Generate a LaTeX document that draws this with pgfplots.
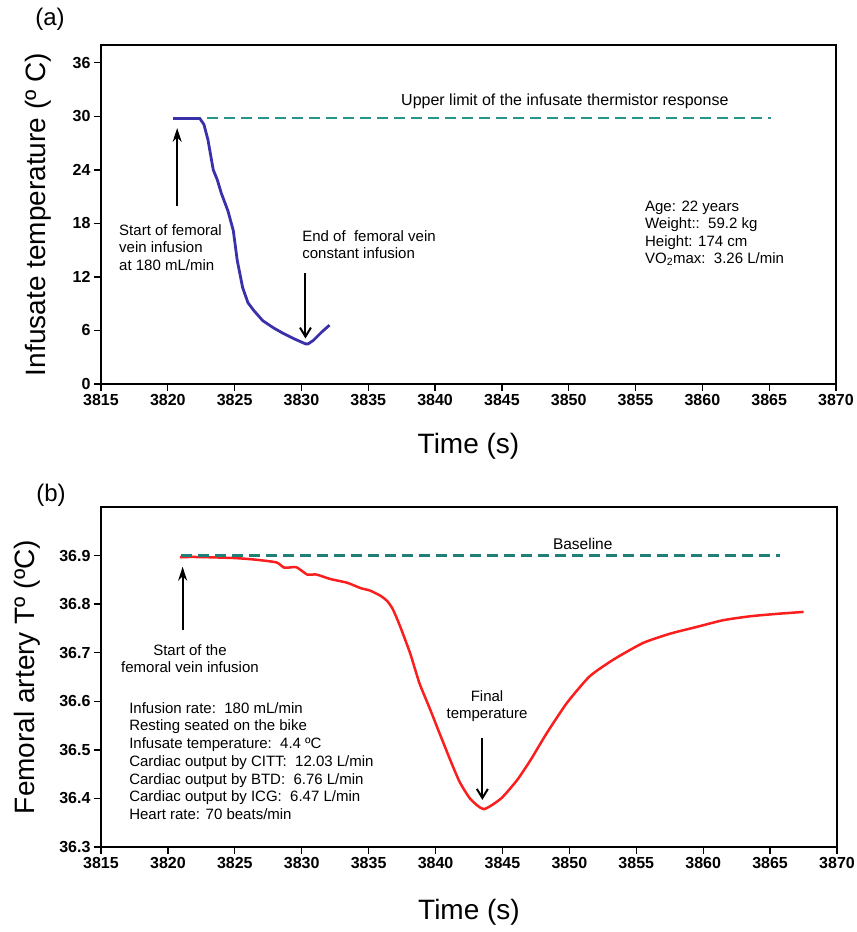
\documentclass[border=0pt]{standalone}
\usepackage{pgfplots}
\pgfplotsset{compat=1.18}
\usepackage{fontspec}
\setmainfont{Liberation Sans}
\usetikzlibrary{arrows.meta}
\definecolor{curveblue}{RGB}{58,48,170}
\definecolor{tealdash}{RGB}{38,150,140}
\definecolor{curvered}{RGB}{250,30,30}
\pgfplotsset{
  common/.style={
    scale only axis,
    anchor=south west,
    xmin=3815, xmax=3870,
    xtick={3815,3820,3825,3830,3835,3840,3845,3850,3855,3860,3865,3870},
    tick align=outside, tick pos=left,
    major tick length=7pt,
    axis line style={line width=1.6pt},
    every tick/.style={line width=1.3pt, black},
    tick label style={font=\fontsize{16}{18}\selectfont\bfseries},
    label style={font=\fontsize{28}{32}\selectfont},
    /pgf/number format/assume math mode=true,
    x tick label style={/pgf/number format/1000 sep={}},
    clip=false,
  }
}
\newcommand{\ann}{\fontsize{15}{17.5}\selectfont}
\begin{document}
\begin{tikzpicture}
\useasboundingbox (0,0) rectangle (857pt,932pt);
\node[font=\fontsize{24}{28}\selectfont] at (50pt,913pt) {(a)};
\node[font=\fontsize{24}{28}\selectfont] at (51pt,437pt) {(b)};
% ---------- (a)
\begin{axis}[common,
  at={(101pt,548pt)}, width=735pt, height=339pt,
  ymin=0, ymax=38, ytick={0,6,12,18,24,30,36},
  xlabel={Time (s)}, ylabel={Infusate temperature (º C)},
  xlabel style={at={(axis description cs:0.5,-0.183)}, anchor=center},
  ylabel style={at={(axis description cs:-0.0857,0.5)}, anchor=center},
]
\addplot[tealdash, line width=2.5pt, dash pattern=on 11pt off 6pt] coordinates {(3820.4,29.8) (3865.1,29.8)};
\addplot[curveblue, line width=2.8pt, line join=round] coordinates {
(3820.4,29.75) (3822.4,29.75) (3822.7,29.1) (3823.0,27.4) (3823.4,24.0) (3823.7,22.9)
(3824.0,21.4) (3824.5,19.4) (3824.9,17.2) (3825.2,13.8) (3825.6,10.8) (3826.0,9.1)
(3826.4,8.3) (3827.1,7.1) (3827.9,6.3) (3828.6,5.7) (3829.4,5.1) (3830.3,4.5)
(3830.5,4.5) (3830.9,4.9) (3831.5,5.8) (3832.1,6.6)};
\draw[line width=2pt, -{Stealth[length=14pt,width=9pt]}] (axis cs:3820.7,19.9) -- (axis cs:3820.7,28.7);
\draw[line width=2pt, -{Straight Barb[length=9pt,width=11pt]}] (axis cs:3830.3,12.4) -- (axis cs:3830.3,5.1);
\node[anchor=west, font=\fontsize{16}{18}\selectfont] at (axis cs:3837.2,31.7) {Upper limit of the infusate thermistor response};
\node[anchor=west, align=left, font=\ann, inner sep=0pt] at (axis cs:3816.35,15.3) {Start of femoral\\vein infusion\\at 180 mL/min};
\node[anchor=west, align=left, font=\ann, inner sep=0pt] at (axis cs:3830.05,15.6) {End of\ \ femoral vein\\constant infusion};
\node[anchor=west, align=left, font=\ann, inner sep=0pt] at (axis cs:3855.7,16.9) {Age: 22 years\\Weight::\ \ 59.2 kg\\Height: 174 cm\\VO\textsubscript{2}max:\ \ 3.26 L/min};
\end{axis}
% ---------- (b)
\begin{axis}[common,
  at={(101pt,85pt)}, width=736pt, height=340pt,
  ymin=36.3, ymax=37.0, ytick={36.3,36.4,36.5,36.6,36.7,36.8,36.9},
  yticklabel style={/pgf/number format/.cd, fixed, fixed zerofill, precision=1},
  xlabel={Time (s)}, ylabel={Femoral artery Tº (ºC)},
  xlabel style={at={(axis description cs:0.5,-0.191)}, anchor=center},
  ylabel style={at={(axis description cs:-0.1007,0.5)}, anchor=center},
]
\addplot[curvered, line width=2.5pt, line join=round, smooth, tension=0.35] coordinates {
(3820.9,36.897) (3822.4,36.897) (3824.9,36.895) (3826.4,36.892) (3828.1,36.886)
(3828.7,36.875) (3829.6,36.876) (3830.4,36.861) (3831.1,36.861) (3832.1,36.852)
(3833.4,36.844) (3834.4,36.833) (3835.1,36.828) (3835.9,36.817) (3836.4,36.806)
(3836.8,36.790) (3837.3,36.758) (3838.1,36.699) (3838.8,36.637) (3839.6,36.583) (3840.3,36.534)
(3841.1,36.479) (3841.8,36.434) (3842.6,36.399) (3843.6,36.378) (3844.9,36.400)
(3846.1,36.438) (3847.1,36.479) (3848.3,36.534) (3849.8,36.596) (3851.5,36.651)
(3853.3,36.686) (3855.5,36.720) (3857.5,36.739) (3859.5,36.753) (3861.5,36.767)
(3863.5,36.775) (3865.5,36.780) (3867.5,36.784)};
\addplot[tealdash!85!black, line width=2.4pt, dash pattern=on 11pt off 6pt] coordinates {(3821.0,36.9) (3865.75,36.9)};
\draw[line width=2pt, -{Stealth[length=14pt,width=9pt]}] (axis cs:3821.1,36.747) -- (axis cs:3821.1,36.877);
\draw[line width=2pt, -{Straight Barb[length=9pt,width=11pt]}] (axis cs:3843.5,36.525) -- (axis cs:3843.5,36.397);
\node[font=\fontsize{15.5}{18}\selectfont] at (axis cs:3851.0,36.923) {Baseline};
\node[align=center, font=\ann, inner sep=0pt] at (axis cs:3821.65,36.688) {Start of the\\femoral vein infusion};
\node[anchor=west, align=left, font=\fontsize{15}{17.7}\selectfont, inner sep=0pt] at (axis cs:3817.1,36.477) {Infusion rate:\ \ 180 mL/min\\Resting seated on the bike\\Infusate temperature:\ \ 4.4 ºC\\Cardiac output by CITT:\ \ 12.03 L/min\\Cardiac output by BTD:\ \ 6.76 L/min\\Cardiac output by ICG:\ \ 6.47 L/min\\Heart rate: 70 beats/min};
\node[align=center, font=\ann, inner sep=0pt] at (axis cs:3843.85,36.590) {Final\\temperature};
\end{axis}
\end{tikzpicture}
\end{document}
